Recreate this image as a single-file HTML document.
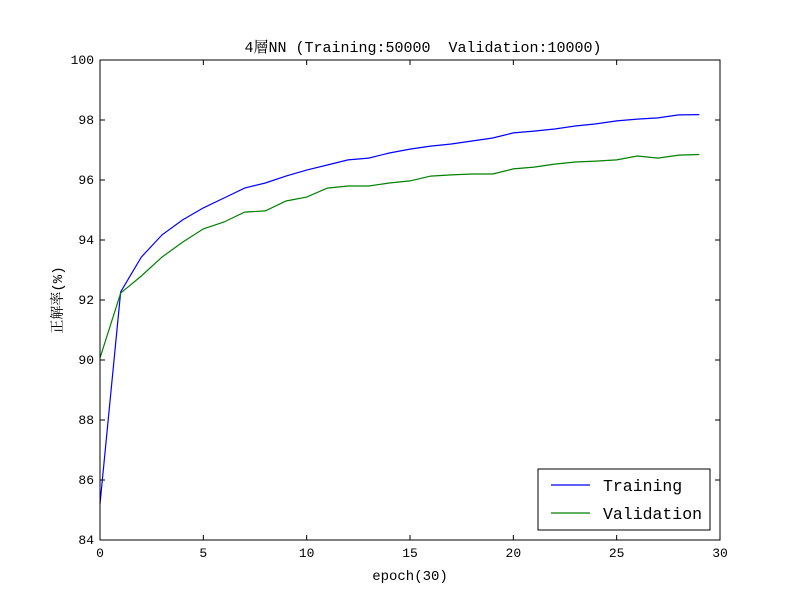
<!DOCTYPE html>
<html><head><meta charset="utf-8"><style>
body{margin:0;background:#fff;}
svg text{font-family:"Liberation Mono","Noto Serif CJK SC",monospace;}
</style></head><body>
<svg id="chart" width="800" height="600" xmlns="http://www.w3.org/2000/svg">
<rect x="0" y="0" width="800" height="600" fill="#fff"/>
<g id="g"></g>
</svg>
<script>
const epochs=[0,1,2,3,4,5,6,7,8,9,10,11,12,13,14,15,16,17,18,19,20,21,22,23,24,25,26,27,28,29];
const training=[85.2,92.27,93.43,94.17,94.67,95.07,95.4,95.73,95.9,96.13,96.33,96.5,96.67,96.73,96.9,97.03,97.13,97.2,97.3,97.4,97.57,97.63,97.7,97.8,97.87,97.97,98.03,98.07,98.17,98.18];
const validation=[90.07,92.23,92.8,93.43,93.93,94.37,94.6,94.93,94.97,95.3,95.43,95.73,95.8,95.8,95.9,95.97,96.13,96.17,96.2,96.2,96.37,96.43,96.53,96.6,96.63,96.67,96.8,96.73,96.83,96.85];
const xTicks=[0,5,10,15,20,25,30];
const yTicks=[84,86,88,90,92,94,96,98,100];
const L=100,R=720,T=60,B=540;
const xs=v=>L+(v-0)/30*(R-L);
const ys=v=>B-(v-84)/16*(B-T);
const g=document.getElementById('g');
const NS='http://www.w3.org/2000/svg';
function mk(tag,attrs,txt){const e=document.createElementNS(NS,tag);for(const k in attrs)e.setAttribute(k,attrs[k]);if(txt!==undefined)e.textContent=txt;g.appendChild(e);return e;}
function line(data,color,name){
  const p=mk('polyline',{points:data.map((v,i)=>xs(epochs[i])+','+ys(v)).join(' '),fill:'none',stroke:color,'stroke-width':1.2});
  
  
}
line(training,'#0000ff','training-line');
line(validation,'#008000','validation-line');
const frame=mk('rect',{x:L,y:T,width:R-L,height:B-T,fill:'none',stroke:'#000','stroke-width':1});


xTicks.forEach(t=>{
  const x=xs(t);
  mk('line',{x1:x,y1:B,x2:x,y2:B-5,stroke:'#000'});
  mk('line',{x1:x,y1:T,x2:x,y2:T+5,stroke:'#000'});
  const tx=mk('text',{x:x,y:B+17,'text-anchor':'middle','font-size':13},t);
  
  
});
yTicks.forEach(t=>{
  const y=ys(t);
  mk('line',{x1:L,y1:y,x2:L+5,y2:y,stroke:'#000'});
  mk('line',{x1:R,y1:y,x2:R-5,y2:y,stroke:'#000'});
  const tx=mk('text',{x:L-6,y:y+4,'text-anchor':'end','font-size':13},t);
  
  
});
const title=mk('text',{x:423,y:52,'text-anchor':'middle','font-size':15},'4層NN (Training:50000  Validation:10000)');


title.setAttribute('xml:space','preserve');
title.style.whiteSpace='pre';
const xl=mk('text',{x:410,y:580,'text-anchor':'middle','font-size':14},'epoch(30)');


const yl=mk('text',{x:0,y:0,'text-anchor':'middle','font-size':14,transform:'translate(62,300) rotate(-90)'},'正解率(%)');


const lg=mk('rect',{x:538,y:469,width:172,height:61,fill:'#fff',stroke:'#000'});


[['Training','#0000ff',485],['Validation','#008000',513]].forEach(([n,c,y])=>{
  mk('line',{x1:551,y1:y,x2:590,y2:y,stroke:c,'stroke-width':1.2});
  const t=mk('text',{x:603,y:y+6,'font-size':16.5},n);
  
  
});
</script>
</body></html>
